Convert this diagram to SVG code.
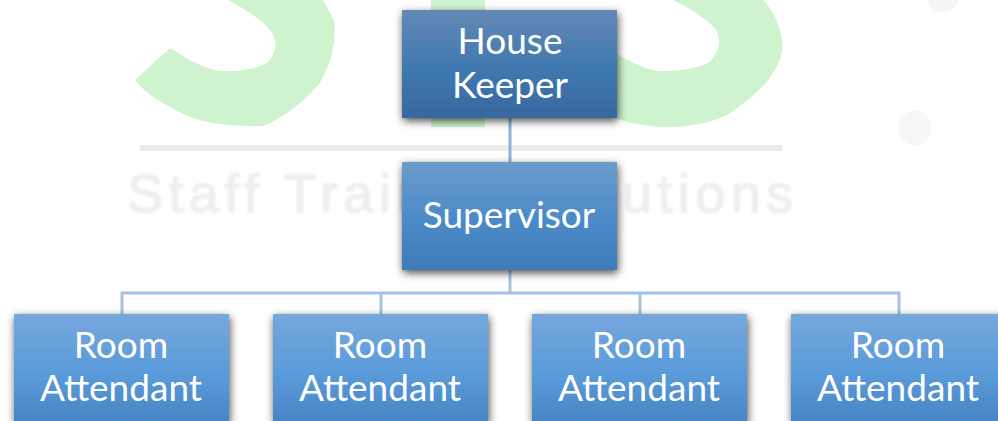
<svg xmlns="http://www.w3.org/2000/svg" width="998" height="421" viewBox="0 0 998 421">
<defs>
<linearGradient id="g1" x1="0" y1="0" x2="0" y2="1"><stop offset="0" stop-color="#6389b5"/><stop offset=".55" stop-color="#3f78b0"/><stop offset="1" stop-color="#37689f"/></linearGradient>
<linearGradient id="g2" x1="0" y1="0" x2="0" y2="1"><stop offset="0" stop-color="#6c9bcb"/><stop offset=".55" stop-color="#4a8ac8"/><stop offset="1" stop-color="#3e7ab8"/></linearGradient>
<linearGradient id="g3" x1="0" y1="0" x2="0" y2="1"><stop offset="0" stop-color="#76a7dc"/><stop offset=".55" stop-color="#5a9bda"/><stop offset="1" stop-color="#4885c4"/></linearGradient>
<filter id="sh" x="-10%" y="-10%" width="120%" height="125%"><feDropShadow dx="1" dy="3" stdDeviation="4" flood-color="#000" flood-opacity=".7"/></filter>
<filter id="soft" x="-5%" y="-20%" width="110%" height="140%"><feGaussianBlur stdDeviation="1.1"/></filter>
</defs>
<style>
.wm{font-family:"Liberation Sans",sans-serif;font-size:54px;letter-spacing:5.4px;fill:#efefef;stroke:#efefef;stroke-width:1.5;filter:url(#soft)}
.box{filter:url(#sh)}
.t{font-family:Lato,"Open Sans",sans-serif;font-size:37px;fill:#fff;text-anchor:middle}
.c{fill:none;stroke-width:3}
</style>
<g id="watermark">
<path fill="#cff3cf" d="M228 0Q262 18 272 33Q281 46 268 62Q253 72 220 71Q200 68 170 48L135 80Q150 100 193 118Q220 127 263 126Q293 114 320 83Q338 52 334 20L323 0Z"/>
<rect fill="#cff3cf" x="431" y="0" width="54" height="127"/>
<path fill="#cff3cf" d="M673 0Q705 16 716 30Q725 44 710 62Q690 72 657 71Q640 68 617 54L600 50L600 113Q630 125 660 127Q700 128 727 115Q750 100 765 84Q785 60 782 40Q778 15 763 0Z"/>
<rect fill="#ebebea" x="140" y="145" width="642" height="6"/>
<circle fill="#f7f7f7" cx="915" cy="128" r="17"/>
<circle fill="#f5f5f5" cx="943" cy="-5" r="17"/>
<text class="wm" x="127" y="212">Staff Train</text>
<text class="wm" x="622" y="212">utions</text>
</g>
<g id="connectors">
<path class="c" stroke="#8fb0dc" d="M510 118V162"/>
<path class="c" stroke="#a6c2e2" d="M510 270V293M122 314V293H899V314M381 293V314M640 293V314"/>
</g>
<g id="house-keeper"><rect class="box" x="402" y="10" width="215" height="108" fill="url(#g1)"/><text class="t" x="510" y="54">House</text><text class="t" x="510" y="98">Keeper</text></g>
<g id="supervisor"><rect class="box" x="402" y="162" width="215" height="108" fill="url(#g2)"/><text class="t" x="509" y="228">Supervisor</text></g>
<g id="room-attendant-1"><rect class="box" x="14" y="314" width="215" height="108" fill="url(#g3)"/><text class="t" x="121" y="358">Room</text><text class="t" x="121" y="401">Attendant</text></g>
<g id="room-attendant-2"><rect class="box" x="273" y="314" width="215" height="108" fill="url(#g3)"/><text class="t" x="380" y="358">Room</text><text class="t" x="380" y="401">Attendant</text></g>
<g id="room-attendant-3"><rect class="box" x="532" y="314" width="215" height="108" fill="url(#g3)"/><text class="t" x="639" y="358">Room</text><text class="t" x="639" y="401">Attendant</text></g>
<g id="room-attendant-4"><rect class="box" x="791" y="314" width="215" height="108" fill="url(#g3)"/><text class="t" x="898" y="358">Room</text><text class="t" x="898" y="401">Attendant</text></g>
</svg>
